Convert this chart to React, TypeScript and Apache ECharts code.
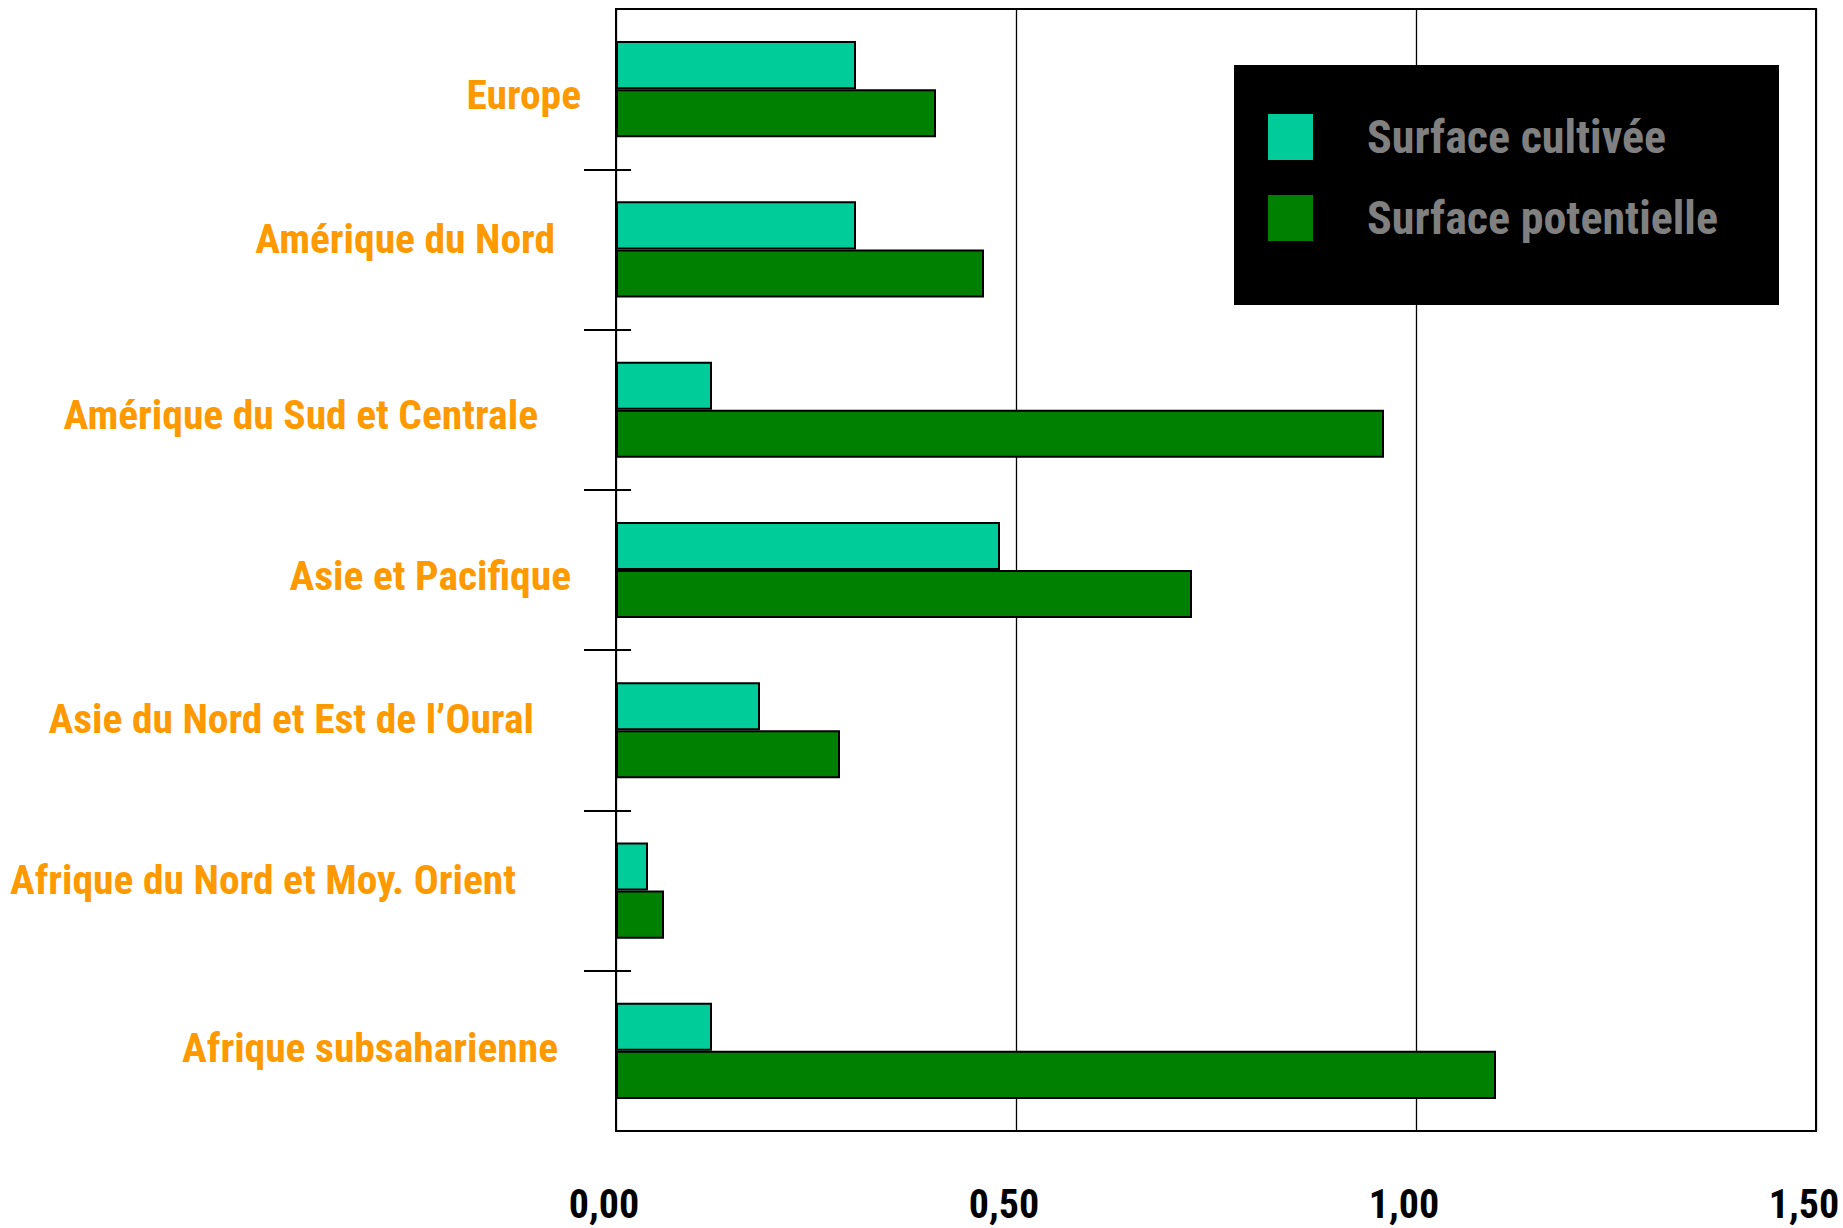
import { useEffect, useRef } from "react";
import * as echarts from "echarts";

const categories = [
  "Europe",
  "Amérique du Nord",
  "Amérique du Sud et Centrale",
  "Asie et Pacifique",
  "Asie du Nord et Est de l’Oural",
  "Afrique du Nord et Moy. Orient",
  "Afrique subsaharienne",
];
const surfaceCultivee = [0.3, 0.3, 0.12, 0.48, 0.18, 0.04, 0.12];
const surfacePotentielle = [0.4, 0.46, 0.96, 0.72, 0.28, 0.06, 1.1];
const seriesNames = ["Surface cultivée", "Surface potentielle"];
const xMin = 0;
const xMax = 1.5;
const xStep = 0.5;
const bandBoundaryTicks = [1, 2, 3, 4, 5, 6];

// label layout tweaks (style only)
const labelPadRight = [0, 26, 43, 10, 47, 65, 23];
const labelShiftY = [5, -11, 5, 5, -12, -11, -3];

const FONT = "'Liberation Sans Narrow', 'Arial Narrow', 'Roboto Condensed', sans-serif";

export default function App() {
  const ref = useRef<HTMLDivElement>(null);
  useEffect(() => {
    document.body.style.margin = "0";
    if (!ref.current) return;
    const chart = echarts.init(ref.current, undefined, { renderer: "svg" });
    const rich: Record<string, any> = {};
    categories.forEach((_, i) => {
      const s = labelShiftY[i];
      rich["l" + i] = {
        fontFamily: FONT,
        fontSize: 41.5,
        fontWeight: "bold",
        color: "#FF9900",
        padding: [s > 0 ? 2 * s : 0, labelPadRight[i], s < 0 ? -2 * s : 0, 0],
      };
    });
    const tickAxis = (inside: boolean, length: number) => ({
      type: "value",
      min: 0,
      max: categories.length,
      interval: 1,
      inverse: true,
      position: "left",
      axisLine: { show: false },
      axisLabel: { show: false },
      splitLine: { show: false },
      axisTick: {
        show: true,
        inside,
        length,
        customValues: bandBoundaryTicks,
        lineStyle: { color: "#000", width: 2 },
      },
    });
    chart.setOption({
      animation: false,
      backgroundColor: "#fff",
      grid: {
        left: 616,
        right: 27,
        top: 9,
        bottom: 97,
        show: true,
        borderColor: "#000",
        borderWidth: 2,
        backgroundColor: "transparent",
      },
      graphic: [
        {
          type: "rect",
          left: 1234,
          top: 65,
          z: 5,
          shape: { width: 545, height: 240 },
          style: { fill: "#000" },
        },
      ],
      legend: {
        data: seriesNames,
        orient: "vertical",
        left: 1268,
        top: 114,
        z: 10,
        padding: 0,
        itemWidth: 45,
        itemHeight: 46,
        itemGap: 35,
        icon: "rect",
        selectedMode: false,
        itemStyle: { borderWidth: 0 },
        textStyle: {
          color: "#808080",
          fontFamily: FONT,
          fontSize: 46,
          fontWeight: "bold",
          padding: [0, 0, 0, 49],
        },
      },
      xAxis: {
        type: "value",
        min: xMin,
        max: xMax,
        interval: xStep,
        axisLine: { show: true, lineStyle: { color: "#000", width: 2 } },
        axisTick: { show: false },
        splitLine: { show: true, lineStyle: { color: "#000", width: 1.3 } },
        axisLabel: {
          formatter: (v: number) => v.toFixed(2).replace(".", ","),
          fontFamily: FONT,
          fontSize: 40,
          fontWeight: "bold",
          color: "#000",
          margin: 53,
          padding: [0, 24, 0, 0],
        },
      },
      yAxis: [
        {
          type: "category",
          data: categories,
          inverse: true,
          axisLine: { show: true, lineStyle: { color: "#000", width: 2 } },
          axisTick: { show: false },
          splitLine: { show: false },
          axisLabel: {
            margin: 35,
            fontFamily: FONT,
            fontSize: 41.5,
            fontWeight: "bold",
            color: "#FF9900",
            formatter: (v: string, i: number) => `{l${i}|${v}}`,
            rich,
          },
        },
        tickAxis(false, 32),
        tickAxis(true, 15),
      ],
      series: [
        {
          name: seriesNames[0],
          type: "bar",
          data: surfaceCultivee,
          barGap: "0%",
          barCategoryGap: "40%",
          itemStyle: { color: "#00CC99", borderColor: "#000", borderWidth: 2 },
        },
        {
          name: seriesNames[1],
          type: "bar",
          data: surfacePotentielle,
          barGap: "0%",
          barCategoryGap: "40%",
          itemStyle: { color: "#008000", borderColor: "#000", borderWidth: 2 },
        },
      ],
    });
    return () => chart.dispose();
  }, []);
  return <div ref={ref} style={{ width: 1843, height: 1228 }} />;
}
